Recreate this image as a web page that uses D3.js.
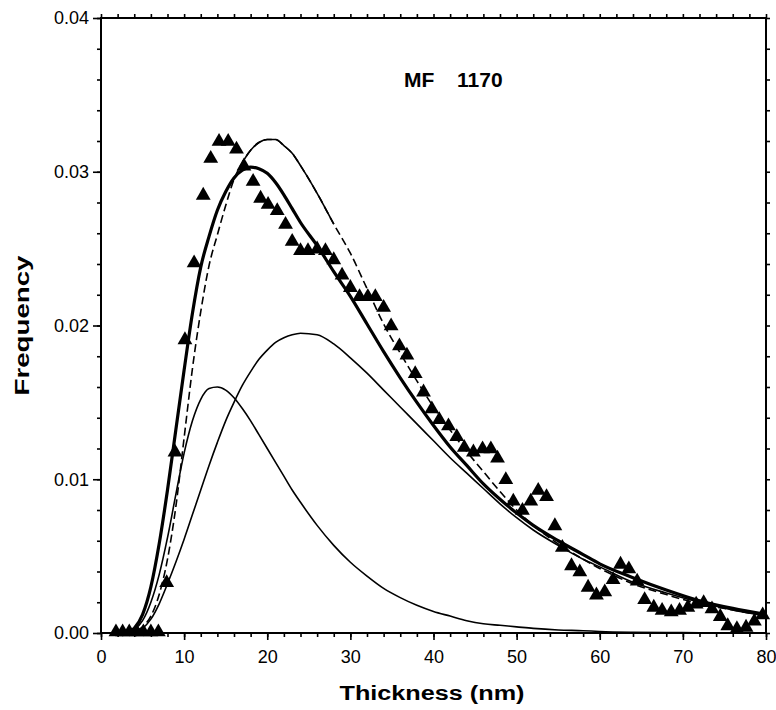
<!DOCTYPE html>
<html>
<head>
<meta charset="utf-8">
<script src="https://cdn.jsdelivr.net/npm/d3@7"></script>
<style>
  body { margin: 0; background: #fff; }
  svg { display: block; }
  text { font-family: "Liberation Sans", Arial, sans-serif; fill: #000; }
</style>
</head>
<body>
<script>
// measured triangles (thickness nm, frequency)
const pointX = [1.8, 2.6, 3.4, 4.3, 5.1, 6.0, 6.9, 7.9, 8.9, 10.1, 11.2, 12.3, 13.2, 14.2, 15.3, 16.3, 17.2, 18.3, 19.2, 20.1,
  21.2, 22.2, 23.0, 24.0, 24.9, 26.0, 27.0, 28.0, 29.0, 30.0, 31.1, 32.1, 33.0, 34.0, 34.9, 35.9, 36.8, 37.8, 38.8, 39.8,
  40.7, 41.8, 42.8, 43.7, 44.8, 45.9, 46.9, 47.7, 48.7, 49.6, 50.7, 51.7, 52.6, 53.6, 54.6, 55.5, 56.6, 57.6, 58.6, 59.6,
  60.6, 61.6, 62.5, 63.5, 64.5, 65.4, 66.5, 67.5, 68.6, 69.6, 70.6, 71.6, 72.5, 73.5, 74.5, 75.4, 76.5, 77.6, 78.6, 79.6];
const pointY = [0, 0, 0, 0, 0, 0, 0, 0.0032, 0.0117, 0.019, 0.024, 0.0284, 0.0308, 0.0319, 0.0319, 0.0314, 0.0303, 0.0293, 0.0282, 0.0278,
  0.0274, 0.0265, 0.0254, 0.0248, 0.0248, 0.0249, 0.0248, 0.0242, 0.0232, 0.0224, 0.0218, 0.0218, 0.0218, 0.0211, 0.0199, 0.0186, 0.018, 0.0168, 0.0156, 0.0145,
  0.0138, 0.0134, 0.0127, 0.012, 0.0117, 0.0119, 0.0119, 0.0113, 0.0099, 0.0085, 0.0079, 0.0085, 0.0092, 0.0088, 0.0069, 0.0055, 0.0043, 0.0039, 0.0029, 0.0024,
  0.0026, 0.0034, 0.0044, 0.0041, 0.0033, 0.0021, 0.0016, 0.0014, 0.0013, 0.0014, 0.0016, 0.0018, 0.0019, 0.0015, 0.001, 0.0004, 0.0002, 0.0003, 0.0007, 0.0011];

// fitted curves on a common thickness grid
const gridX = [3, 4, 5, 6, 7, 8, 9, 10, 11, 12, 13, 14, 15, 16, 17, 18, 19, 20, 21, 22, 23, 24, 26, 28, 30, 32, 34, 36, 38, 40,
  42, 44, 46, 48, 50, 52, 55, 58, 60, 64, 68, 72, 76, 80];
const fitTotal = [0, 0.0003, 0.0012, 0.003, 0.0058, 0.0093, 0.0132, 0.0171, 0.0208, 0.0238, 0.0258, 0.0275, 0.0287, 0.0296, 0.0301, 0.0303, 0.0302, 0.0299, 0.0293, 0.0285, 0.0276, 0.0267, 0.0252, 0.0235, 0.0219, 0.0201, 0.0183, 0.0166, 0.015, 0.0135,
  0.0121, 0.0109, 0.0097, 0.0087, 0.0078, 0.007, 0.006, 0.0051, 0.0045, 0.0036, 0.0028, 0.0021, 0.0016, 0.0012];
const fitSingle = [0, 0.0001, 0.0004, 0.0011, 0.0025, 0.0048, 0.0082, 0.0127, 0.0172, 0.0209, 0.0239, 0.0259, 0.0278, 0.0295, 0.0306, 0.0314, 0.0319, 0.0321, 0.0321, 0.0317, 0.0312, 0.0304, 0.0286, 0.0266, 0.0247, 0.0224, 0.0201, 0.0182, 0.0164, 0.0147,
  0.0132, 0.0118, 0.0105, 0.0092, 0.008, 0.007, 0.0058, 0.0048, 0.0042, 0.0032, 0.0025, 0.0019, 0.0015, 0.0011];
const comp1 = [0, 0.0002, 0.0008, 0.002, 0.0038, 0.0062, 0.009, 0.0117, 0.0138, 0.0152, 0.0159, 0.016, 0.0158, 0.0153, 0.0146, 0.0138, 0.0129, 0.012, 0.0111, 0.0102, 0.0093, 0.0085, 0.007, 0.0057, 0.0046, 0.0037, 0.0029, 0.0023, 0.0018, 0.0014,
  0.0011, 0.0008, 0.0006, 0.0005, 0.0004, 0.0003, 0.0002, 0.00015, 0.0001, 0.00005, 0.00003, 0.00002, 0.00001, 0];
const comp2 = [0, 0, 0.0003, 0.0009, 0.0019, 0.0032, 0.0046, 0.0061, 0.0077, 0.0093, 0.0109, 0.0124, 0.0138, 0.015, 0.0161, 0.017, 0.0178, 0.0184, 0.0189, 0.0192, 0.0194, 0.0195, 0.0194, 0.0188, 0.0179, 0.0169, 0.0158, 0.0147, 0.0136, 0.0125,
  0.0114, 0.0104, 0.0094, 0.0084, 0.0075, 0.0067, 0.0057, 0.0048, 0.0043, 0.0033, 0.0026, 0.002, 0.0015, 0.0011];

const xTicks = [0, 10, 20, 30, 40, 50, 60, 70, 80];
const yTicks = [0, 0.01, 0.02, 0.03, 0.04];

const W = 776, H = 710;
const margin = { left: 101, right: 10, top: 18, bottom: 77 };

const svg = d3.select("body").append("svg").attr("width", W).attr("height", H);

const x = d3.scaleLinear().domain([0, 80]).range([margin.left, W - margin.right]);
const y = d3.scaleLinear().domain([0, 0.04]).range([H - margin.bottom, margin.top]);

// frame
svg.append("rect")
  .attr("x", x(0)).attr("y", y(0.04))
  .attr("width", x(80) - x(0)).attr("height", y(0) - y(0.04))
  .attr("fill", "none").attr("stroke", "#000").attr("stroke-width", 2);

const minorX = d3.range(0, 81, 2);
const minorY = d3.range(0, 0.0401, 0.002);

// bottom axis
const bottomMinor = svg.append("g").attr("transform", `translate(0,${y(0)})`)
  .call(d3.axisBottom(x).tickValues(minorX).tickSize(4).tickFormat(""));
bottomMinor.select(".domain").remove();
const bottomMajor = svg.append("g").attr("transform", `translate(0,${y(0)})`)
  .call(d3.axisBottom(x).tickValues(xTicks).tickSize(7).tickPadding(10).tickFormat(d3.format("d")));
bottomMajor.select(".domain").remove();
bottomMajor.selectAll("text").style("font-size", "18px");

// top axis (ticks only)
const topAxis = svg.append("g").attr("transform", `translate(0,${y(0.04)})`)
  .call(d3.axisTop(x).tickValues(minorX).tickSize(4).tickFormat(""));
topAxis.select(".domain").remove();

// left axis
const leftMinor = svg.append("g").attr("transform", `translate(${x(0)},0)`)
  .call(d3.axisLeft(y).tickValues(minorY).tickSize(4).tickFormat(""));
leftMinor.select(".domain").remove();
const leftMajor = svg.append("g").attr("transform", `translate(${x(0)},0)`)
  .call(d3.axisLeft(y).tickValues(yTicks).tickSize(8).tickPadding(4).tickFormat(d3.format(".2f")));
leftMajor.select(".domain").remove();
leftMajor.selectAll("text").style("font-size", "18px");

// right axis (ticks only)
const rightAxis = svg.append("g").attr("transform", `translate(${x(80)},0)`)
  .call(d3.axisRight(y).tickValues(minorY).tickSize(4).tickFormat(""));
rightAxis.select(".domain").remove();

svg.selectAll(".tick line").attr("stroke", "#000").attr("stroke-width", 1.6);

// curves
const curveData = ys => gridX.map((d, i) => [d, ys[i]]);
const line = d3.line().x(d => x(d[0])).y(d => y(d[1])).curve(d3.curveMonotoneX);

const plot = svg.append("g");
plot.append("path").datum(curveData(comp1))
  .attr("d", line).attr("fill", "none").attr("stroke", "#000").attr("stroke-width", 1.6);
plot.append("path").datum(curveData(comp2))
  .attr("d", line).attr("fill", "none").attr("stroke", "#000").attr("stroke-width", 1.6);
plot.append("path").datum(curveData(fitSingle))
  .attr("d", line).attr("fill", "none").attr("stroke", "#000").attr("stroke-width", 1.6)
  .attr("stroke-dasharray", "8,4");
plot.append("path").datum(curveData(fitSingle).filter(d => d[0] >= 17 && d[0] <= 28))
  .attr("d", line).attr("fill", "none").attr("stroke", "#000").attr("stroke-width", 1.6);
plot.append("path").datum(curveData(fitTotal))
  .attr("d", line).attr("fill", "none").attr("stroke", "#000").attr("stroke-width", 3.2);

// triangles
const tri = d3.symbol().type(d3.symbolTriangle).size(95);
plot.selectAll(".pt").data(pointX.map((d, i) => [d, pointY[i]]))
  .join("path")
  .attr("class", "pt")
  .attr("d", tri)
  .attr("transform", d => `translate(${x(d[0])},${y(d[1]) - 1})`)
  .attr("fill", "#000");

// labels
svg.append("text")
  .attr("x", 432).attr("y", 700)
  .attr("text-anchor", "middle")
  .attr("textLength", 185).attr("lengthAdjust", "spacingAndGlyphs")
  .style("font-size", "20px").style("font-weight", "bold")
  .text("Thickness (nm)");

svg.append("text")
  .attr("transform", `translate(29,${(y(0) + y(0.04)) / 2}) rotate(-90)`)
  .attr("text-anchor", "middle")
  .attr("textLength", 140).attr("lengthAdjust", "spacingAndGlyphs")
  .style("font-size", "20px").style("font-weight", "bold")
  .text("Frequency");

const title = svg.append("text").attr("y", 87)
  .style("font-size", "21px").style("font-weight", "bold");
title.append("tspan").attr("x", 404).text("MF");
title.append("tspan").attr("x", 457).text("1170");
</script>
</body>
</html>
